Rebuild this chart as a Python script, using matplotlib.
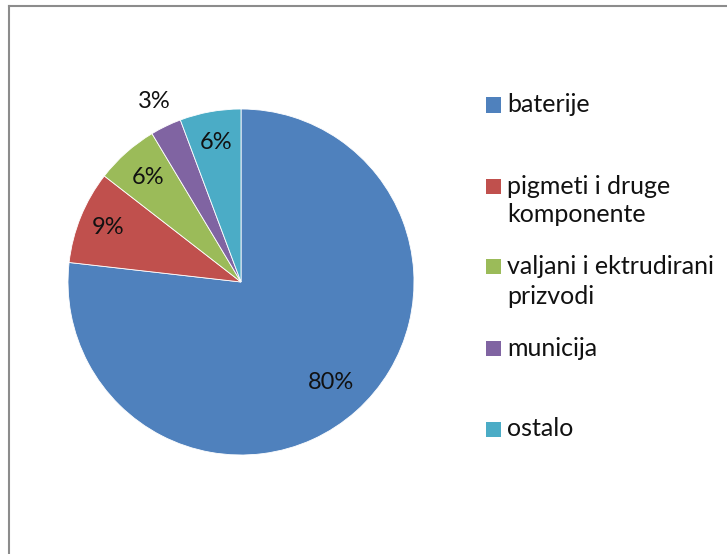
import numpy as np
import matplotlib.pyplot as plt
from matplotlib.lines import Line2D
from matplotlib.patches import Rectangle

# ---------- Data ----------
categories = ["baterije", "pigmeti i druge\nkomponente", "valjani i ektrudirani\nprizvodi",
              "municija", "ostalo"]
shares = [76.8, 8.7, 5.9, 2.9, 5.7]          # wedge sizes
pct_labels = ["80%", "9%", "6%", "3%", "6%"]  # labels as printed on the chart
colors = ["#4F81BD", "#C0504D", "#9BBB59", "#8064A2", "#4BACC6"]
label_dist = [0.78, 0.83, 0.81, 1.16, 0.82]

W, H = 727, 554
plt.rcParams['font.family'] = ['Lato', 'DejaVu Sans']

fig = plt.figure(figsize=(W / 100, H / 100), dpi=100)

# pie axes: centre (241, 282) px, radius 173 px
cx, cy, R = 241, 282, 173
ax = fig.add_axes([(cx - R) / W, (H - cy - R) / H, 2 * R / W, 2 * R / H])
wedges, _ = ax.pie(shares, colors=colors, startangle=90, counterclock=False,
                   wedgeprops=dict(edgecolor="white", linewidth=0.6))
ax.set_xlim(-1, 1)
ax.set_ylim(-1, 1)
ax.set_aspect("equal")

for w, lab, d in zip(wedges, pct_labels, label_dist):
    theta = np.deg2rad((w.theta1 + w.theta2) / 2)
    ax.text(d * np.cos(theta), d * np.sin(theta), lab, ha="center", va="center",
            fontsize=17, color="#111111")

# ---------- Legend (manual, evenly spaced) ----------
for i, (name, c) in enumerate(zip(categories, colors)):
    y = 105 + 81 * i
    fig.add_artist(Rectangle((486 / W, 1 - (y + 7.5) / H), 15 / W, 15 / H,
                             transform=fig.transFigure, facecolor=c, edgecolor="none"))
    for j, line in enumerate(name.split("\n")):
        fig.text(507 / W, 1 - (y + 29 * j) / H, line, ha="left", va="center",
                 fontsize=18, color="#111111")

# ---------- Outer frame (cropped) ----------
fig.add_artist(Line2D([9 / W, 9 / W], [0, 1 - 6 / H], transform=fig.transFigure,
                      color="#8c8c8c", linewidth=1.5))
fig.add_artist(Line2D([9 / W, 1], [1 - 6 / H, 1 - 6 / H], transform=fig.transFigure,
                      color="#8c8c8c", linewidth=1.5))

fig.savefig("out.png", dpi=100)
